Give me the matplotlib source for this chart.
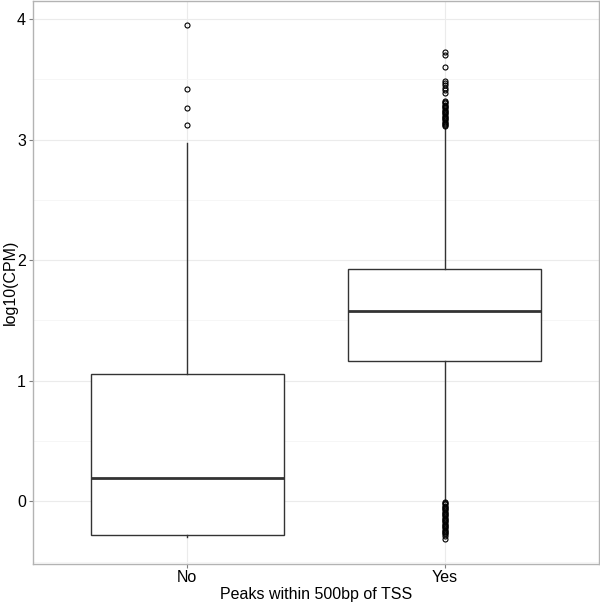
import matplotlib
matplotlib.use("Agg")
import matplotlib.pyplot as plt

plt.rcParams['font.family'] = ['Liberation Sans', 'DejaVu Sans']

categories = ["No", "Yes"]
q1 = [-0.28, 1.16]
median = [0.19, 1.575]
q3 = [1.06, 1.93]
whisker_low = [-0.30, 0.005]
whisker_high = [2.97, 3.10]
outliers_no = [3.95, 3.42, 3.26, 3.12]
outliers_yes = [3.73, 3.70, 3.60, 3.49, 3.47, 3.45, 3.43, 3.41, 3.39,
                3.32, 3.31, 3.30, 3.29, 3.28, 3.27, 3.26, 3.25, 3.24, 3.23,
                3.22, 3.21, 3.20, 3.19, 3.18, 3.17, 3.16, 3.15, 3.14, 3.13,
                3.12, 3.11,
                -0.005, -0.015, -0.025, -0.035, -0.045, -0.055, -0.065, -0.075,
                -0.085, -0.095, -0.105, -0.115, -0.125, -0.135, -0.145, -0.155,
                -0.165, -0.175, -0.185, -0.195, -0.205, -0.215, -0.225, -0.235,
                -0.245, -0.255, -0.265, -0.275, -0.285, -0.31]
outliers = [outliers_no, outliers_yes]
yticks = [0, 1, 2, 3, 4]
minor_yticks = [-0.5, 0.5, 1.5, 2.5, 3.5]

W, H = 600, 603
fig = plt.figure(figsize=(W / 100, H / 100), dpi=100)
ax = fig.add_axes([33 / W, 1 - 564 / H, 566 / W, 563 / H])

stats = []
for i, c in enumerate(categories):
    stats.append(dict(label=c, q1=q1[i], med=median[i], q3=q3[i],
                      whislo=whisker_low[i], whishi=whisker_high[i],
                      fliers=outliers[i]))

dark = '#333333'
ax.bxp(stats, positions=[1, 2], widths=0.75, showcaps=False, patch_artist=True,
       boxprops=dict(facecolor='white', edgecolor=dark, linewidth=1.0),
       medianprops=dict(color=dark, linewidth=2.0),
       whiskerprops=dict(color=dark, linewidth=1.0),
       flierprops=dict(marker='o', markersize=3.6, markerfacecolor='none',
                       markeredgecolor='black', markeredgewidth=0.8),
       zorder=3)

ax.set_xlim(0.4, 2.6)
ax.set_ylim(-0.52, 4.15)
ax.set_yticks(yticks)
ax.set_yticks(minor_yticks, minor=True)
ax.set_xticks([1, 2])
ax.set_xticklabels(categories)

ax.grid(True, which='major', color='#EBEBEB', linewidth=0.8, zorder=0)
ax.grid(True, which='minor', axis='y', color='#F5F5F5', linewidth=0.6, zorder=0)
ax.set_axisbelow(True)

for s in ax.spines.values():
    s.set_color('#B3B3B3')
    s.set_linewidth(1.0)

ax.tick_params(axis='both', which='major', colors='#7F7F7F', length=3,
               labelcolor='black', labelsize=11.5)
ax.tick_params(axis='x', which='major', pad=1.5)
ax.tick_params(axis='y', which='major', pad=2)
ax.tick_params(axis='y', which='minor', length=0)

ax.set_xlabel("Peaks within 500bp of TSS", fontsize=11.5)
ax.xaxis.set_label_coords(0.5, -(599 - 564) / 563)
ax.xaxis.label.set_va('baseline')
ax.set_ylabel("log10(CPM)", fontsize=11.5)
ax.yaxis.set_label_coords(-(33 - 10) / 566, 0.5)
ax.yaxis.label.set_va('center')

fig.savefig("out.png", dpi=100)
